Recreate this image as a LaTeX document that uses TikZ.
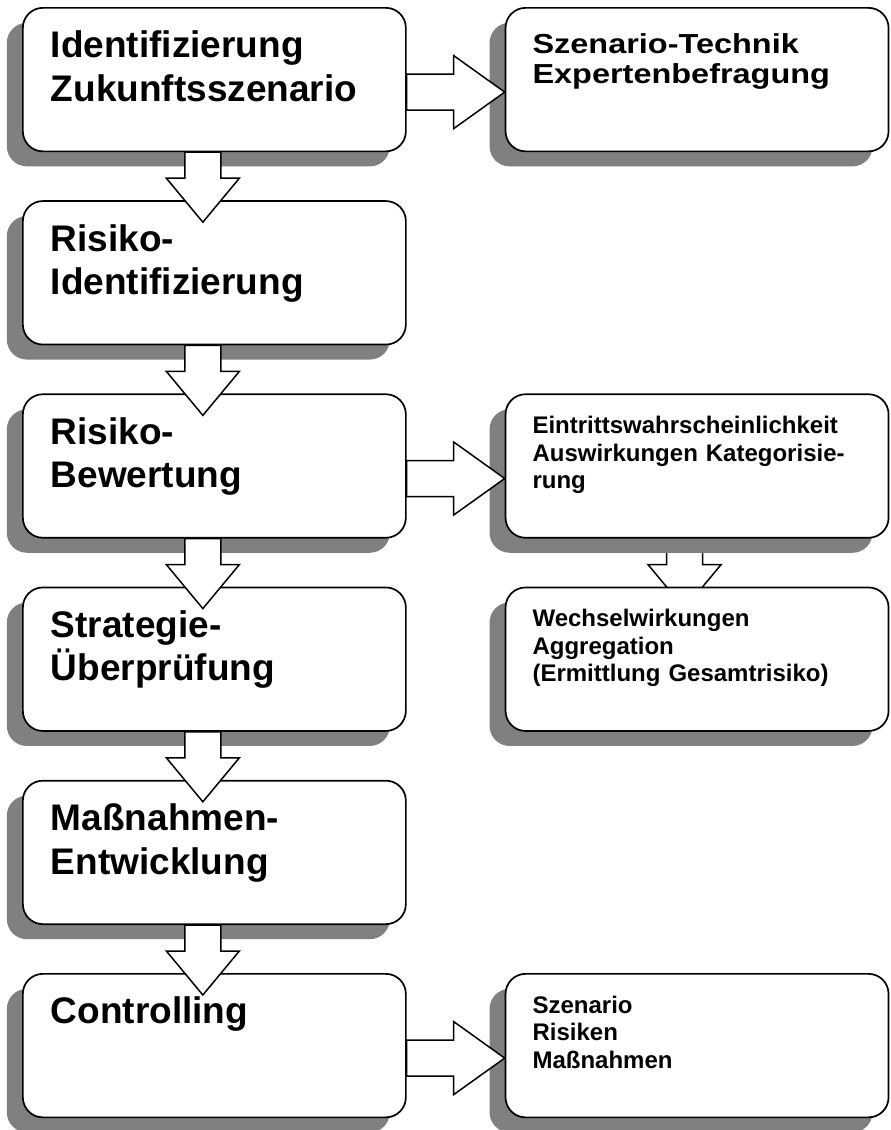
\documentclass[tikz,border=0pt]{standalone}
\usepackage{fontspec}
\setmainfont{Liberation Sans}
\newfontfamily\widefont{Liberation Sans}[FakeStretch=1.18]
\definecolor{boxShadow}{HTML}{808080}
\usepackage{tikz}
\usetikzlibrary{positioning, shadows, backgrounds}

\begin{document}
\begin{tikzpicture}[
  x=1pt, y=1pt,
  stepbox/.style={draw, line width=1.7pt, fill=white, rounded corners=20pt,
    minimum width=383pt, minimum height=143.5pt, inner xsep=28pt, inner ysep=0pt,
    text width=327pt, align=left, text height=50pt, text depth=93.5pt,
    font=\fontsize{37}{43.4}\selectfont\bfseries,
    drop shadow={shadow xshift=-16pt, shadow yshift=-15pt, fill=boxShadow, opacity=1}},
  notebox/.style={stepbox, inner xsep=27pt, text width=329pt,
    text height=39.5pt, text depth=104pt,
    font=\fontsize{24}{27.5}\selectfont\bfseries},
  blockarrow/.style={draw, line width=1.5pt, fill=white, line join=miter}]
  \useasboundingbox (0,0) rectangle (891,-1130);
  % Main steps
  \node[stepbox, anchor=north west] (idz) at (22,-7) {Identifizierung\\Zukunftsszenario};
  \node[stepbox, below=48pt of idz] (rid) {Risiko-\\Identifizierung};
  \node[stepbox, below=48pt of rid] (rbw) {Risiko-\\Bewertung};
  \node[stepbox, below=48pt of rbw] (stp) {Strategie-\\Überprüfung};
  \node[stepbox, below=48pt of stp] (mnh) {Maßnahmen-\\Entwicklung};
  \node[stepbox, below=48pt of mnh] (ctl) {Controlling};
  % Side notes
  \node[notebox, right=98pt of idz, text height=45.7pt, text depth=97.8pt,
    font=\widefont\fontsize{27.5}{30}\selectfont\bfseries] (tech) {Szenario-Technik\\Expertenbefragung};
  \node[notebox, right=98pt of rbw] (kat) {Eintrittswahrscheinlichkeit\\Auswirkungen Kategorisie-\\rung};
  \node[notebox, right=98pt of stp] (agg) {Wechselwirkungen\\Aggregation\\(Ermittlung Gesamtrisiko)};
  \node[notebox, right=98pt of ctl] (ctr) {Szenario\\Risiken\\Maßnahmen};
  % Down arrows
  \foreach \a/\b in {idz/rid, rid/rbw, rbw/stp, stp/mnh, mnh/ctl}
    \draw[blockarrow] ([xshift=-29.5pt]\a.south) -- ([xshift=-29.5pt, yshift=-26pt]\a.south)
      -- ([xshift=-48pt, yshift=-26pt]\a.south) -- ([xshift=-11.5pt, yshift=-22pt]\b.north)
      -- ([xshift=25pt, yshift=-26pt]\a.south) -- ([xshift=6.5pt, yshift=-26pt]\a.south)
      -- ([xshift=6.5pt]\a.south) -- cycle;
  \begin{scope}[on background layer]
    \draw[blockarrow] ([xshift=-30.5pt]kat.south) -- ([xshift=-30.5pt, yshift=-26pt]kat.south)
      -- ([xshift=-49pt, yshift=-26pt]kat.south) -- ([xshift=-12.5pt, yshift=-22pt]agg.north)
      -- ([xshift=24pt, yshift=-26pt]kat.south) -- ([xshift=5.5pt, yshift=-26pt]kat.south)
      -- ([xshift=5.5pt]kat.south) -- cycle;
  \end{scope}
  % Side arrows
  \foreach \a/\b in {idz/tech, rbw/kat, ctl/ctr}
    \draw[blockarrow] ([yshift=5.5pt]\a.east) -- ([xshift=47pt, yshift=5.5pt]\a.east)
      -- ([xshift=47pt, yshift=24pt]\a.east) -- ([yshift=-12.5pt]\b.west)
      -- ([xshift=47pt, yshift=-49pt]\a.east) -- ([xshift=47pt, yshift=-30.5pt]\a.east)
      -- ([yshift=-30.5pt]\a.east) -- cycle;
\end{tikzpicture}
\end{document}
